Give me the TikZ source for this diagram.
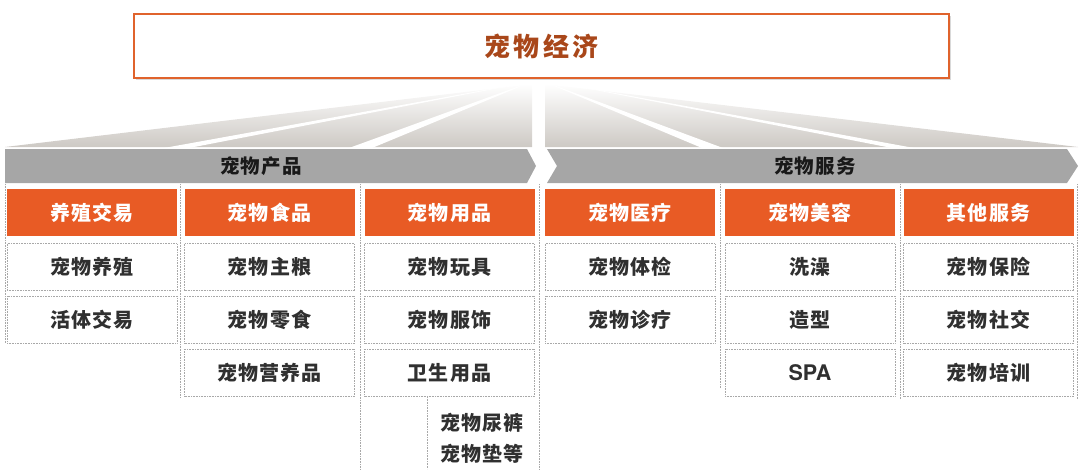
\documentclass[tikz,border=0pt]{standalone}
\usepackage{fontspec}
\setmainfont{Liberation Sans}
\newfontfamily\cjk[LetterSpace=6]{Noto Sans CJK SC}
\newfontfamily\cjkt[LetterSpace=12]{Noto Sans CJK SC}
\newfontfamily\spafont{TeX Gyre Heros}
\usetikzlibrary{shadows}
\definecolor{hdr}{HTML}{E85B25}
\definecolor{titleorange}{HTML}{E0632C}
\definecolor{titletext}{HTML}{A9471A}
\definecolor{bannergray}{HTML}{A6A6A6}
\definecolor{fangray}{HTML}{CDC9C4}
\definecolor{dotgray}{HTML}{A8A8A8}
\definecolor{txt}{HTML}{303030}
\begin{document}
\begin{tikzpicture}[x=1pt,y=-1pt,
  hdrbox/.style={fill=hdr, minimum width=170pt, minimum height=47pt, inner sep=0pt,
    text=white, font=\cjk\bfseries\fontsize{20}{22}\selectfont},
  itembox/.style={draw=dotgray, densely dotted, line width=0.6pt, fill=white,
    minimum width=170pt, minimum height=47pt, inner sep=0pt,
    text=txt, font=\cjk\bfseries\fontsize{20}{22}\selectfont},
  colline/.style={draw=dotgray, densely dotted, line width=0.6pt},
  bannertext/.style={text=black!90, font=\cjk\bfseries\fontsize{19.5}{22}\selectfont},
  fanshade/.style={top color=white, bottom color=fangray, draw=none},
  streak/.style={fill=white, draw=none}]
\useasboundingbox (0,0) rectangle (1080,472);

% fan
\path[fanshade] (5,147) -- (532,147) -- (532,84) -- cycle;
\path[fanshade] (545,147) -- (1078,147) -- (545,84) -- cycle;
\path[streak] (540,80) -- (164,148) -- (189,148) -- cycle;
\path[streak] (536,80) -- (349,148) -- (372,148) -- cycle;
\path[streak] (540,80) -- (702,148) -- (723,148) -- cycle;
\path[streak] (544,80) -- (892,148) -- (914,148) -- cycle;

% title
\node[draw=titleorange, line width=2.5pt, fill=white, minimum width=815pt, minimum height=64pt,
  inner sep=0pt, drop shadow={opacity=0.3, shadow xshift=1.5pt, shadow yshift=-2pt},
  text=titletext, font=\cjkt\bfseries\fontsize{26}{28}\selectfont] (title) at (541.5,46) {宠物经济};

% banners
\path[fill=bannergray] (5,149) -- (527,149) -- (536,166) -- (527,183) -- (5,183) -- cycle;
\path[fill=bannergray] (547,149) -- (1067,149) -- (1078,166) -- (1067,183) -- (547,183) -- (557,166) -- cycle;
\node[bannertext] (prod) at (261,166) {宠物产品};
\node[bannertext] (serv) at (815,166) {宠物服务};

% column dotted outlines
\draw[colline] (5,184) -- (5,343);
\draw[colline] (180,184) -- (180,397);
\draw[colline] (360,184) -- (360,469);
\draw[colline] (427,397) -- (427,469);
\draw[colline] (539,184) -- (539,469);
\draw[colline] (720,184) -- (720,388);
\draw[colline] (900,184) -- (900,399);
\draw[colline] (1077,184) -- (1077,399);

% headers
\node[hdrbox] (h1) at (92,212.5) {养殖交易};
\node[hdrbox] (h2) at (269.5,212.5) {宠物食品};
\node[hdrbox] (h3) at (449.5,212.5) {宠物用品};
\node[hdrbox] (h4) at (630,212.5) {宠物医疗};
\node[hdrbox] (h5) at (810,212.5) {宠物美容};
\node[hdrbox] (h6) at (988.5,212.5) {其他服务};

% items
\node[itembox] (a1) at (92,267) {宠物养殖};
\node[itembox] (a2) at (92,319.5) {活体交易};

\node[itembox] (b1) at (269.5,267) {宠物主粮};
\node[itembox] (b2) at (269.5,319.5) {宠物零食};
\node[itembox] (b3) at (269.5,372.5) {宠物营养品};

\node[itembox] (c1) at (449.5,267) {宠物玩具};
\node[itembox] (c2) at (449.5,319.5) {宠物服饰};
\node[itembox] (c3) at (449.5,372.5) {卫生用品};
\node[text=txt, font=\cjk\bfseries\fontsize{20}{31}\selectfont, align=center, inner sep=0pt] (c4) at (482,438) {宠物尿裤\\宠物垫等};

\node[itembox] (d1) at (630,267) {宠物体检};
\node[itembox] (d2) at (630,319.5) {宠物诊疗};

\node[itembox] (e1) at (810,267) {洗澡};
\node[itembox] (e2) at (810,319.5) {造型};
\node[itembox, font=\spafont\bfseries\fontsize{21.5}{23}\selectfont] (e3) at (810,372.5) {SPA};

\node[itembox] (f1) at (988.5,267) {宠物保险};
\node[itembox] (f2) at (988.5,319.5) {宠物社交};
\node[itembox] (f3) at (988.5,372.5) {宠物培训};
\end{tikzpicture}
\end{document}
